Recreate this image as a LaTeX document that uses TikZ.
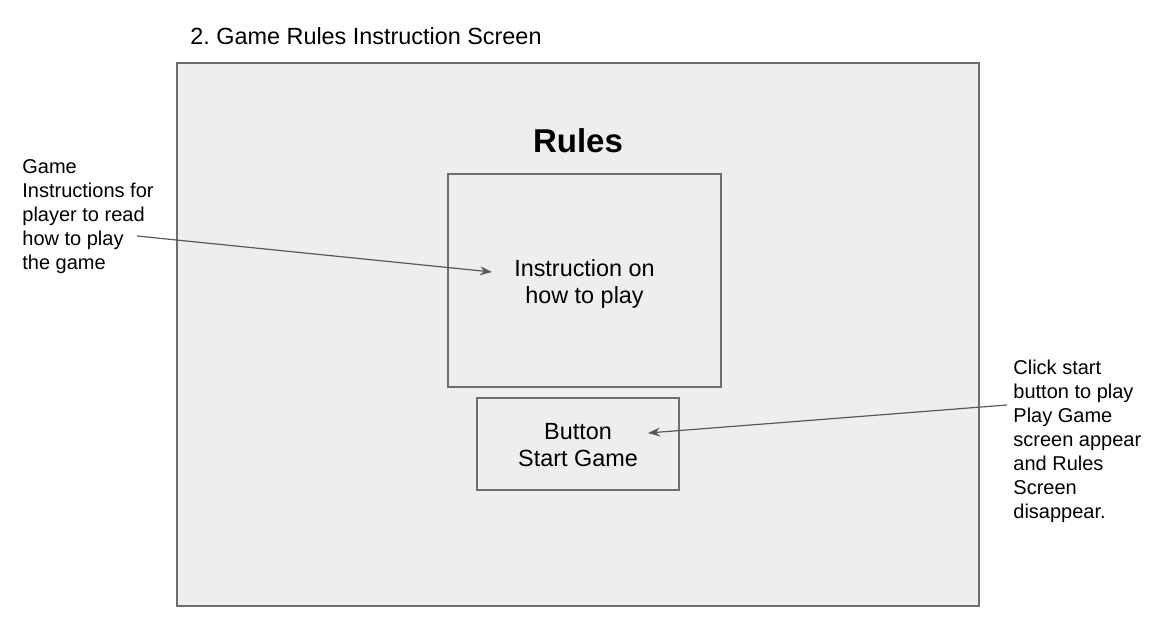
\documentclass[tikz,border=0pt]{standalone}
\usepackage{fontspec}
\setmainfont{Liberation Sans}
\frenchspacing
\usetikzlibrary{arrows.meta, positioning}

\definecolor{panel}{HTML}{EEEEEE}
\definecolor{edge}{HTML}{6E6E6E}
\definecolor{pointer}{HTML}{595959}

\begin{document}
\begin{tikzpicture}[x=0.5pt, y=-0.5pt,
every node/.style={align=center, inner sep=0pt},
screen/.style={draw=edge, fill=panel, line width=0.6pt, minimum width=401pt, minimum height=271.5pt},
panelbox/.style={draw=edge, fill=panel, line width=0.6pt, font=\fontsize{11.7}{13.5}\selectfont},
note/.style={align=left, font=\fontsize{10}{12}\selectfont},
pointy/.style={draw=pointer, line width=0.6pt, -{Stealth[length=6pt, width=4.5pt]}}]
%================================================================
% Frame
\useasboundingbox (0,0) rectangle (1167,631);
\node[anchor=west, font=\fontsize{11.7}{13.5}\selectfont] (title) at (190,36) {2. Game Rules Instruction Screen};
\node[screen] (rulesscreen) at (578,334.5) {};

% --------------------------------
% Screen content
\node[font=\fontsize{16.5}{18}\selectfont\bfseries] (heading) at (578,141) {Rules};
\node[panelbox, minimum width=136.5pt, minimum height=106.5pt] (instr) at (584.5,280.5) {};
\node[font=\fontsize{11.7}{13.5}\selectfont] (instrtext) at (584.5,283.5) {Instruction on\\how to play};
\node[panelbox, minimum width=101pt, minimum height=46pt] (startbtn) at (578,444) {};
\node[font=\fontsize{11.7}{13.5}\selectfont] (starttext) at (578,445.5) {Button\\Start Game};

%================================================================
% Notes
\node[note, anchor=west] (leftnote) at (22,216.5) {Game\\Instructions for\\player to read\\how to play\\the game};
\node[note, anchor=west] (rightnote) at (1013,441.5) {Click start\\button to play\\Play Game\\screen appear\\and Rules\\Screen\\disappear.};

\coordinate (lefttail) at (137,236);
\coordinate (lefttip) at (492,272);
\coordinate (righttail) at (1007,405);
\coordinate (righttip) at (648,433);
\draw[pointy] (lefttail) -- (lefttip);
\draw[pointy] (righttail) -- (righttip);
%================================================================
\end{tikzpicture}
\end{document}
